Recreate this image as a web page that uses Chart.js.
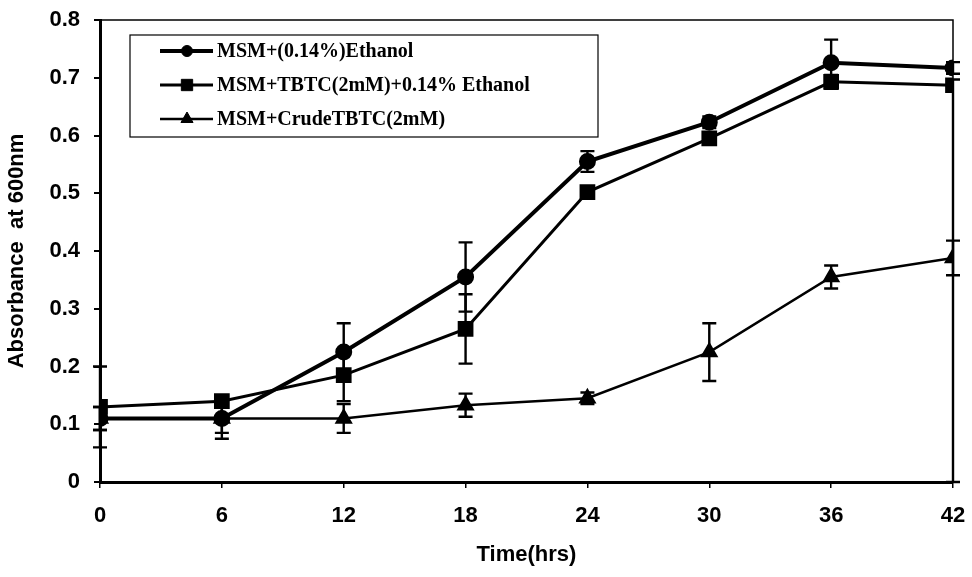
<!DOCTYPE html>
<html>
<head>
<meta charset="utf-8">
<script src="https://cdn.jsdelivr.net/npm/chart.js@4.4.1/dist/chart.umd.min.js"></script>
<style>
  html, body { margin: 0; padding: 0; background: #fff; }
  #wrap { width: 972px; height: 577px; }
</style>
</head>
<body>
<div id="wrap"><canvas id="growthChart"></canvas></div>
<script>
// sampling times (hrs)
const times = [0, 6, 12, 18, 24, 30, 36, 42];

// absorbance at 600nm
const ethanol = [0.11, 0.11, 0.225, 0.355, 0.555, 0.623, 0.726, 0.717];
const tbtc = [0.13, 0.14, 0.185, 0.265, 0.502, 0.595, 0.693, 0.687];
const crude = [0.11, 0.11, 0.11, 0.133, 0.145, 0.225, 0.355, 0.388];

// error bars (up / down)
const ethanolErr = [0.02, 0.035, 0.05, 0.06, 0.018, 0.01, 0.04, 0.01];
const tbtcErrUp = [0.07, 0.01, 0.045, 0.06, 0.01, 0.01, 0.012, 0.01];
const tbtcErrDown = [0.07, 0.01, 0.045, 0.06, 0.01, 0.01, 0.012, 0.687];
const crudeErr = [0.02, 0.025, 0.025, 0.02, 0.01, 0.05, 0.02, 0.03];

const seriesNames = ['MSM+(0.14%)Ethanol', 'MSM+TBTC(2mM)+0.14% Ethanol', 'MSM+CrudeTBTC(2mM)'];
const yTicks = ['0', '0.1', '0.2', '0.3', '0.4', '0.5', '0.6', '0.7', '0.8'];

const toPoints = vals => vals.map((v, i) => ({ x: times[i], y: v }));

// error bars drawn with the chart's own scales
const errorBars = {
    id: 'errorBars',
    afterDatasetsDraw(chart) {
        const ctx = chart.ctx;
        const xs = chart.scales.x, ys = chart.scales.y;
        ctx.save();
        ctx.strokeStyle = '#000';
        ctx.lineWidth = 2.4;
        chart.data.datasets.forEach(ds => {
            ds.data.forEach((p, i) => {
                const x = xs.getPixelForValue(p.x);
                const yHi = ys.getPixelForValue(p.y + ds.errUp[i]);
                const yLo = ys.getPixelForValue(p.y - ds.errDown[i]);
                ctx.beginPath();
                ctx.moveTo(x, yHi); ctx.lineTo(x, yLo);
                ctx.moveTo(x - 7, yHi); ctx.lineTo(x + 7, yHi);
                ctx.moveTo(x - 7, yLo); ctx.lineTo(x + 7, yLo);
                ctx.stroke();
            });
        });
        ctx.restore();
    }
};

// thin frame on the top and right of the plot
const plotFrame = {
    id: 'plotFrame',
    beforeDatasetsDraw(chart) {
        const { left, right, top, bottom } = chart.chartArea;
        const ctx = chart.ctx;
        ctx.save();
        ctx.strokeStyle = '#000';
        ctx.lineWidth = 1.5;
        ctx.beginPath();
        ctx.moveTo(left, top);
        ctx.lineTo(right, top);
        ctx.lineTo(right, bottom);
        ctx.stroke();
        ctx.restore();
    }
};

// boxed legend inside the plot
const boxLegend = {
    id: 'boxLegend',
    afterDraw(chart) {
        const ctx = chart.ctx;
        const bx = 130, by = 35, bw = 468, bh = 102;
        ctx.save();
        ctx.fillStyle = '#fff';
        ctx.fillRect(bx, by, bw, bh);
        ctx.strokeStyle = '#000';
        ctx.lineWidth = 1.2;
        ctx.strokeRect(bx, by, bw, bh);
        ctx.font = 'bold 20px "Liberation Serif", "Times New Roman", serif';
        ctx.textBaseline = 'middle';
        chart.data.datasets.forEach((ds, i) => {
            const y = 51 + i * 34;
            ctx.strokeStyle = '#000';
            ctx.lineWidth = ds.borderWidth;
            ctx.beginPath();
            ctx.moveTo(160, y);
            ctx.lineTo(213, y);
            ctx.stroke();
            ctx.fillStyle = '#000';
            ctx.lineWidth = 1;
            Chart.helpers.drawPoint(ctx, { pointStyle: ds.pointStyle, radius: ds.pointRadius - 1, borderWidth: 1 }, 187, y);
            ctx.fillStyle = '#000';
            ctx.fillText(ds.label, 217, y + 1);
        });
        ctx.restore();
    }
};

const ctx = document.getElementById('growthChart').getContext('2d');
new Chart(ctx, {
    type: 'line',
    data: {
        datasets: [
            {
                label: seriesNames[0],
                data: toPoints(ethanol),
                errUp: ethanolErr, errDown: ethanolErr,
                borderColor: '#000', backgroundColor: '#000',
                borderWidth: 4, pointStyle: 'circle', pointRadius: 6.5
            },
            {
                label: seriesNames[1],
                data: toPoints(tbtc),
                errUp: tbtcErrUp, errDown: tbtcErrDown,
                borderColor: '#000', backgroundColor: '#000',
                borderWidth: 3, pointStyle: 'rect', pointRadius: 9
            },
            {
                label: seriesNames[2],
                data: toPoints(crude),
                errUp: crudeErr, errDown: crudeErr,
                borderColor: '#000', backgroundColor: '#000',
                borderWidth: 2.5, pointStyle: 'triangle', pointRadius: 8
            }
        ]
    },
    options: {
        responsive: true,
        maintainAspectRatio: false,
        animation: false,
        layout: { padding: { top: 20, right: 19, left: 0, bottom: 0 } },
        elements: { line: { tension: 0 }, point: { borderWidth: 1 } },
        plugins: {
            legend: { display: false },
            tooltip: { enabled: false }
        },
        scales: {
            x: {
                type: 'linear',
                min: 0, max: 42,
                afterFit: scale => {
                    scale.height = 95;
                    scale.paddingLeft = 0;
                    scale.paddingRight = 0;
                },
                ticks: {
                    stepSize: 6,
                    color: '#000',
                    padding: 15,
                    maxRotation: 0,
                    font: { family: '"Liberation Sans", Arial, sans-serif', size: 22, weight: 'bold' }
                },
                grid: { drawOnChartArea: false, color: '#000', lineWidth: 1.5, tickLength: 6 },
                border: { color: '#000', width: 3 },
                title: {
                    display: true,
                    text: 'Time(hrs)',
                    color: '#000',
                    padding: { bottom: 9 },
                    font: { family: '"Liberation Sans", Arial, sans-serif', size: 22, weight: 'bold' }
                }
            },
            y: {
                min: 0, max: 0.8,
                afterFit: scale => {
                    scale.width = 100;
                    scale.paddingTop = 0;
                    scale.paddingBottom = 0;
                },
                ticks: {
                    stepSize: 0.1,
                    color: '#000',
                    padding: 14,
                    callback: (v, i) => yTicks[i],
                    font: { family: '"Liberation Sans", Arial, sans-serif', size: 22, weight: 'bold' }
                },
                grid: { drawOnChartArea: false, color: '#000', lineWidth: 2, tickLength: 6 },
                border: { color: '#000', width: 3 },
                title: {
                    display: true,
                    text: 'Absorbance  at 600nm',
                    color: '#000',
                    padding: { top: 4 },
                    font: { family: '"Liberation Sans", Arial, sans-serif', size: 22, weight: 'bold' }
                }
            }
        }
    },
    plugins: [plotFrame, errorBars, boxLegend]
});
</script>
</body>
</html>
